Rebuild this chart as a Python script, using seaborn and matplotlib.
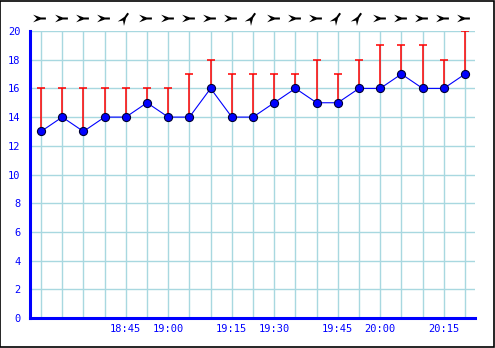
import matplotlib
matplotlib.use("Agg")
import matplotlib.pyplot as plt
import seaborn as sns
import numpy as np
import pandas as pd
from matplotlib.path import Path
from matplotlib.markers import MarkerStyle
from matplotlib.transforms import Affine2D, blended_transform_factory
from matplotlib.patches import Rectangle

# data
speed = [13, 14, 13, 14, 14, 15, 14, 14, 16, 14, 14, 15, 16, 15, 15, 16, 16, 17, 16, 16, 17]
gust = [16, 16, 16, 16, 16, 16, 16, 17, 18, 17, 17, 17, 17, 18, 17, 18, 19, 19, 19, 18, 20]
direction = [0, 0, 0, 0, 55, 0, 0, 0, 0, 0, 55, 0, 0, 0, 55, 55, 0, 0, 0, 0, 0]
label_idx = [4, 6, 9, 11, 14, 16, 19]
labels = ["18:45", "19:00", "19:15", "19:30", "19:45", "20:00", "20:15"]

df = pd.DataFrame({"i": np.arange(len(speed)), "speed": speed, "gust": gust, "dir": direction})

sns.set_style("white")
plt.rcParams['font.family'] = ['DejaVu Sans Mono', 'DejaVu Sans']

fig = plt.figure(figsize=(4.95, 3.48), dpi=100)
ax = fig.add_axes([30/495, 1-318/348, 445/495, 287/348])

blue = "#0000ff"
grid = "#a8d8e0"

# grid
for v in range(2, 21, 2):
    ax.axhline(v, color=grid, lw=1, zorder=0)
for i in df["i"]:
    ax.axvline(i, color=grid, lw=1, zorder=0)

# gust lines
ax.vlines(df["i"], df["speed"], df["gust"], color="red", lw=1.1, zorder=2)
ax.scatter(df["i"], df["gust"], marker="_", s=28, color="red", linewidths=1.1, zorder=2)

# speed line
sns.lineplot(data=df, x="i", y="speed", ax=ax, color=blue, lw=0.8, zorder=3)
sns.scatterplot(data=df, x="i", y="speed", ax=ax, color=blue, edgecolor="#000033",
                s=34, linewidth=0.8, zorder=4)

# direction arrows
arrow = Path([(-1.0, 0.6), (-0.4, 0.0), (-1.0, -0.6), (0.2, -0.16), (1.0, -0.16),
              (1.0, 0.16), (0.2, 0.16), (-1.0, 0.6)],
             [Path.MOVETO] + [Path.LINETO] * 6 + [Path.CLOSEPOLY])
trans = blended_transform_factory(ax.transData, ax.transAxes)
for i, d in zip(df["i"], df["dir"]):
    m = MarkerStyle(arrow, transform=Affine2D().rotate_deg(d))
    ax.scatter([i - 0.08], [1.045], marker=m, s=85, color="black", transform=trans,
               clip_on=False, zorder=5, linewidths=0)

ax.set_xlim(-0.52, 20.47)
ax.set_ylim(0, 20)
ax.set_yticks(range(0, 21, 2))
ax.set_xticks(df["i"])
xt = [""] * len(speed)
for k, l in zip(label_idx, labels):
    xt[k] = l
ax.set_xticklabels(xt)
ax.set_xlabel("")
ax.set_ylabel("")

ax.tick_params(axis="both", direction="in", colors=blue, labelcolor=blue, labelsize=7.5)
ax.tick_params(axis="y", length=4, width=1.2, pad=7)
ax.tick_params(axis="x", length=3.5, width=1.2, pad=4)
for s in ["top", "right"]:
    ax.spines[s].set_visible(False)
for s in ["left", "bottom"]:
    ax.spines[s].set_color(blue)
    ax.spines[s].set_linewidth(2.2)

fig.patches.append(Rectangle((0.001, 0.002), 0.996, 0.995, transform=fig.transFigure,
                             fill=False, edgecolor="black", lw=1.2))

fig.savefig("out.png", dpi=100)
